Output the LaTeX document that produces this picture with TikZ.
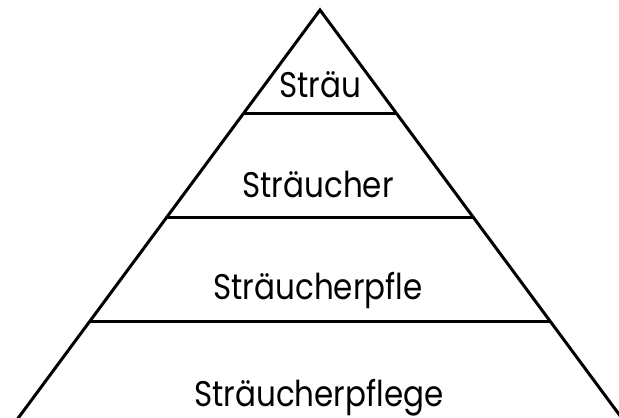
\documentclass[tikz,border=0pt]{standalone}
\usepackage{fontspec}
\setmainfont{Poppins}
\newcommand{\stretchtext}[1]{\scalebox{1}[1.15]{#1}}
\begin{document}
\begin{tikzpicture}[x=1pt,y=-1pt,
  edge/.style={line width=3pt,black},
  lab/.style={anchor=base,inner sep=0pt,font=\fontsize{31}{31}\selectfont}]
\useasboundingbox (0,0) rectangle (619,418);
\coordinate (apex) at (320,10);
\coordinate (bl) at (9.4,430);
\coordinate (br) at (630.6,430);
\coordinate (l1) at (243.8,113);
\coordinate (r1) at (396.2,113);
\coordinate (l2) at (166.9,217);
\coordinate (r2) at (473.1,217);
\coordinate (l3) at (90,321);
\coordinate (r3) at (550,321);
\begin{scope}
\clip (0,0) rectangle (619,418);
\draw[edge] (bl) -- (apex) -- (br);
\end{scope}
\draw[edge] (l1) -- (r1);
\draw[edge] (l2) -- (r2);
\draw[edge] (l3) -- (r3);
\node[lab] (t1) at (320,97) {\stretchtext{Sträu}};
\node[lab] (t2) at (318,197) {\stretchtext{Sträucher}};
\node[lab] (t3) at (318,299) {\stretchtext{Sträucherpfle}};
\node[lab] (t4) at (319,406) {\stretchtext{Sträucherpflege}};
\end{tikzpicture}
\end{document}
